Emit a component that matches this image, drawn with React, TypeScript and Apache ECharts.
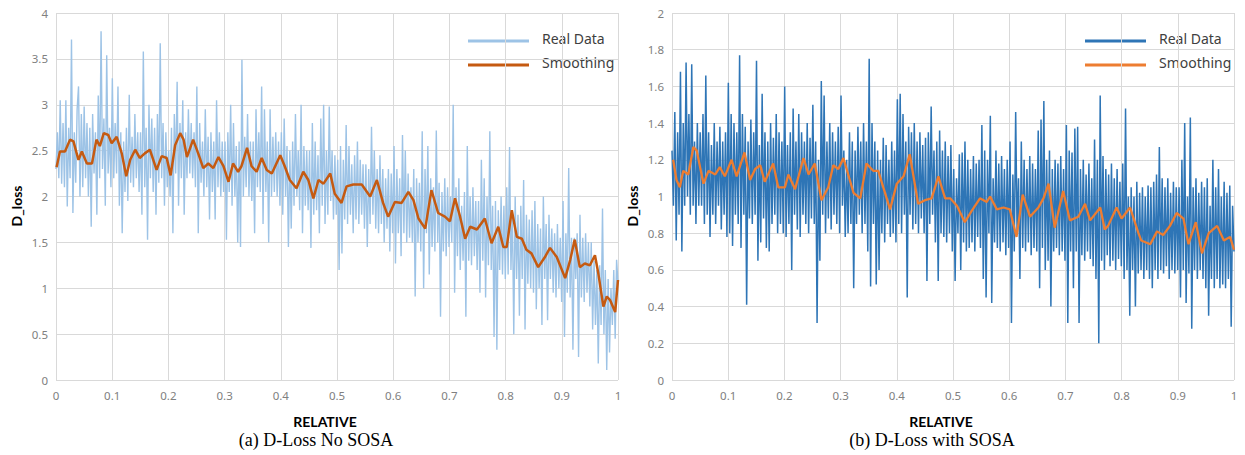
import React, { useEffect, useRef } from "react";
import * as echarts from "echarts";

// ---------- data ----------
const realLeft = [
  2.3, 2.7, 2.2, 3.05, 2.14, 2.8, 2.1, 3.05, 1.89, 2.75, 2.2, 3.71, 1.82, 2.7, 2.15, 2.95, 3.2, 2.0, 2.9, 2.1,
  2.98, 2.2, 2.8, 2.0, 2.75, 1.67, 2.9, 2.25, 2.7, 1.8, 3.1, 2.2, 3.8, 2.3, 2.85, 1.9, 3.54, 2.25, 2.75, 2.1,
  3.29, 2.2, 2.8, 2.25, 3.2, 1.9, 2.7, 1.6, 2.6, 2.05, 2.75, 1.95, 3.11, 2.15, 2.65, 2.1, 2.9, 2.2, 2.7, 2.05,
  2.7, 1.8, 3.58, 2.1, 2.75, 1.53, 3.0, 2.2, 2.85, 2.05, 2.75, 1.8, 2.9, 2.15, 3.67, 2.2, 2.8, 1.9, 2.7, 2.1,
  2.5, 2.0, 2.75, 1.6, 2.9, 2.25, 3.25, 1.9, 2.8, 2.2, 3.05, 1.8, 2.7, 2.2, 2.95, 2.25, 2.8, 2.2, 2.7, 2.1,
  3.2, 1.6, 2.8, 2.15, 2.6, 2.0, 2.95, 2.1, 2.65, 1.75, 2.7, 2.05, 2.6, 1.75, 3.05, 2.1, 2.7, 2.0, 2.6, 2.05,
  2.6, 1.53, 2.7, 2.05, 3.0, 1.9, 2.8, 2.0, 2.55, 1.5, 2.6, 1.45, 3.49, 2.0, 2.65, 2.1, 2.9, 2.0, 2.6, 1.95,
  2.6, 1.6, 2.95, 2.1, 2.7, 2.05, 3.2, 1.7, 2.95, 2.05, 2.6, 1.5, 2.95, 2.0, 2.65, 2.05, 2.7, 2.0, 2.6, 1.9,
  2.7, 1.8, 2.85, 2.0, 2.55, 1.45, 2.5, 1.65, 2.6, 1.9, 2.9, 2.0, 2.5, 1.85, 3.0, 1.6, 2.55, 1.9, 2.5, 1.85,
  2.5, 1.44, 2.8, 1.8, 2.6, 1.85, 2.45, 1.6, 2.85, 1.9, 3.0, 1.7, 2.5, 1.8, 2.98, 1.95, 2.5, 1.75, 2.45, 1.8,
  2.4, 1.2, 2.55, 1.38, 2.4, 1.75, 2.78, 1.7, 2.55, 1.8, 2.35, 1.6, 2.45, 1.75, 2.6, 1.7, 2.4, 1.8, 2.35, 1.65,
  2.35, 1.45, 2.3, 1.7, 2.76, 1.8, 2.5, 1.65, 2.3, 1.6, 2.45, 1.7, 2.3, 1.5, 2.2, 1.65, 2.3, 1.4, 2.25, 1.6,
  2.55, 1.27, 2.3, 1.6, 2.2, 1.35, 2.67, 1.6, 2.5, 1.5, 2.25, 1.55, 2.1, 1.5, 2.3, 0.91, 2.2, 1.5, 2.15, 1.4,
  2.71, 1.0, 2.3, 1.6, 2.55, 1.15, 2.2, 1.45, 2.1, 1.4, 2.72, 1.5, 2.15, 0.69, 2.05, 1.4, 2.2, 1.35, 2.1, 1.45,
  2.0, 1.5, 3.0, 0.95, 2.1, 1.35, 2.2, 1.2, 1.9, 1.3, 2.05, 0.69, 2.55, 1.3, 2.0, 1.25, 2.1, 1.35, 1.95, 1.2,
  1.95, 0.95, 2.4, 1.3, 2.2, 0.9, 2.0, 1.25, 2.71, 1.2, 1.9, 0.47, 1.95, 0.33, 1.85, 1.2, 2.0, 1.15, 1.9, 1.1,
  2.1, 1.15, 2.54, 1.2, 1.85, 0.5, 2.0, 1.1, 1.8, 0.7, 1.9, 1.1, 2.18, 0.55, 1.8, 1.05, 1.75, 1.0, 1.85, 0.95,
  1.95, 0.77, 1.7, 1.0, 1.65, 0.6, 2.0, 1.1, 1.7, 0.65, 1.8, 1.1, 1.65, 0.95, 1.6, 0.9, 1.7, 1.0, 1.55, 0.85,
  1.95, 0.47, 1.6, 0.95, 2.31, 0.9, 1.55, 0.33, 1.55, 1.1, 1.6, 0.25, 1.8, 0.9, 1.55, 0.85, 1.6, 0.95, 1.5, 0.8,
  1.5, 0.55, 1.3, 0.6, 1.2, 0.18, 1.25, 0.6, 1.87, 0.5, 1.2, 0.11, 1.1, 0.3, 1.0, 0.6, 1.2, 0.45, 1.31, 1.05,
];

const smoothLeftX = [
  0.001, 0.007, 0.016, 0.025, 0.031, 0.04, 0.046, 0.055, 0.064, 0.072,
  0.078, 0.085, 0.093, 0.099, 0.108, 0.117, 0.125, 0.132, 0.141, 0.149,
  0.158, 0.167, 0.179, 0.188, 0.197, 0.204, 0.212, 0.221, 0.227, 0.233,
  0.244, 0.253, 0.262, 0.271, 0.28, 0.289, 0.298, 0.307, 0.315, 0.324,
  0.33, 0.34, 0.348, 0.357, 0.366, 0.375, 0.384, 0.399, 0.407, 0.416,
  0.428, 0.44, 0.449, 0.458, 0.467, 0.476, 0.488, 0.496, 0.508, 0.517,
  0.529, 0.544, 0.559, 0.571, 0.582, 0.591, 0.603, 0.615, 0.627, 0.636,
  0.645, 0.657, 0.668, 0.68, 0.692, 0.701, 0.71, 0.719, 0.728, 0.737,
  0.749, 0.763, 0.775, 0.787, 0.796, 0.802, 0.811, 0.82, 0.829, 0.837,
  0.846, 0.858, 0.87, 0.879, 0.891, 0.906, 0.915, 0.923, 0.932, 0.941,
  0.95, 0.959, 0.965, 0.974, 0.98, 0.986, 0.995, 1.0,
];
const smoothLeftY = [
  2.32, 2.49, 2.49, 2.62, 2.6, 2.4, 2.49, 2.36, 2.36, 2.62,
  2.55, 2.69, 2.67, 2.58, 2.65, 2.47, 2.22, 2.4, 2.51, 2.42,
  2.47, 2.51, 2.29, 2.44, 2.42, 2.23, 2.56, 2.69, 2.62, 2.43,
  2.62, 2.47, 2.31, 2.36, 2.31, 2.43, 2.33, 2.16, 2.36, 2.27,
  2.33, 2.53, 2.33, 2.27, 2.42, 2.29, 2.25, 2.45, 2.33, 2.18,
  2.09, 2.27, 2.18, 1.98, 2.18, 2.14, 2.25, 2.03, 1.93, 2.11,
  2.13, 2.13, 2.0, 2.18, 1.93, 1.78, 1.94, 1.93, 2.05, 1.96,
  1.76, 1.65, 2.07, 1.82, 1.78, 1.73, 1.98, 1.78, 1.54, 1.67,
  1.64, 1.76, 1.49, 1.67, 1.45, 1.45, 1.85, 1.56, 1.54, 1.42,
  1.38, 1.23, 1.34, 1.44, 1.34, 1.11, 1.31, 1.53, 1.23, 1.27,
  1.25, 1.36, 1.16, 0.8, 0.91, 0.87, 0.74, 1.09,
];

const realRight = [
  1.25, 0.95, 1.46, 0.76, 1.35, 0.9, 1.68, 0.7, 1.4, 0.95, 1.73, 1.0, 1.45, 0.9, 1.72, 0.95, 1.3, 0.85, 1.4, 0.95,
  1.35, 0.95, 1.45, 0.85, 1.66, 0.9, 1.35, 0.78, 1.28, 0.9, 1.4, 0.85, 1.3, 0.95, 1.38, 0.82, 1.3, 0.9, 1.35, 0.78,
  1.62, 0.8, 1.45, 0.73, 1.4, 0.9, 1.35, 0.85, 1.77, 0.72, 1.45, 0.9, 1.38, 0.41, 1.3, 0.88, 1.42, 0.85, 1.35, 0.9,
  1.74, 0.65, 1.28, 0.75, 1.56, 0.88, 1.35, 0.72, 1.3, 0.7, 1.4, 0.85, 1.32, 0.9, 1.45, 0.8, 1.35, 0.85, 1.3, 0.8,
  1.6, 0.78, 1.28, 0.85, 1.35, 0.6, 1.48, 0.9, 1.3, 0.82, 1.45, 0.78, 1.35, 0.9, 1.3, 0.85, 1.4, 0.8, 1.32, 0.88,
  1.5, 0.85, 1.3, 0.31, 1.2, 0.65, 1.63, 0.9, 1.55, 0.8, 1.3, 0.88, 1.4, 0.82, 1.35, 0.9, 1.3, 0.85, 1.38, 0.8,
  1.55, 0.95, 1.25, 0.78, 1.2, 0.8, 1.35, 0.85, 1.3, 0.5, 1.25, 0.85, 1.38, 0.9, 1.3, 0.8, 1.4, 0.85, 1.3, 0.7,
  1.75, 0.51, 1.4, 0.85, 1.3, 0.52, 1.25, 0.6, 1.2, 0.8, 1.32, 0.75, 1.28, 0.85, 1.2, 0.78, 1.3, 0.8, 1.25, 0.75,
  1.53, 0.85, 1.56, 0.8, 1.45, 0.9, 1.3, 0.45, 1.38, 0.9, 1.35, 0.82, 1.4, 0.85, 1.3, 0.8, 1.35, 0.88, 1.28, 0.8,
  1.32, 0.54, 1.35, 0.85, 1.49, 0.9, 1.25, 0.75, 1.3, 0.54, 1.36, 0.8, 1.25, 0.78, 1.3, 0.75, 1.22, 0.8, 1.28, 0.7,
  1.15, 0.54, 1.1, 0.8, 1.23, 0.6, 1.24, 0.75, 1.3, 0.7, 1.2, 0.72, 1.15, 0.75, 1.22, 0.7, 1.18, 0.78, 1.2, 0.72,
  1.39, 0.55, 1.25, 0.45, 1.2, 0.8, 1.44, 0.42, 1.1, 0.75, 1.25, 0.72, 1.18, 0.7, 1.22, 0.75, 1.15, 0.68, 1.2, 0.72,
  1.3, 0.31, 1.12, 0.7, 1.46, 0.8, 1.1, 0.55, 1.3, 0.72, 1.2, 0.7, 1.15, 0.75, 1.22, 0.68, 1.18, 0.72, 1.15, 0.7,
  1.36, 0.5, 1.42, 0.72, 1.52, 0.6, 1.2, 0.65, 1.25, 0.4, 1.15, 0.7, 1.2, 0.72, 1.18, 0.68, 1.22, 0.7, 1.15, 0.65,
  1.39, 0.31, 1.25, 0.7, 1.24, 0.5, 1.37, 0.7, 1.38, 0.31, 1.15, 0.68, 1.2, 0.65, 1.12, 0.7, 1.18, 0.66, 1.1, 0.62,
  1.31, 0.55, 1.2, 0.2, 1.55, 0.65, 1.22, 0.6, 1.15, 0.68, 1.12, 0.62, 1.18, 0.65, 1.1, 0.6, 1.15, 0.66, 1.08, 0.62,
  1.18, 0.55, 1.48, 0.6, 1.0, 0.35, 1.05, 0.6, 1.0, 0.4, 1.08, 0.58, 1.02, 0.6, 1.05, 0.55, 1.0, 0.6, 1.06, 0.55,
  1.05, 0.5, 1.08, 0.6, 1.12, 0.55, 1.27, 0.6, 1.1, 0.58, 1.05, 0.62, 1.1, 0.55, 1.02, 0.6, 1.08, 0.58, 1.05, 0.6,
  1.05, 0.45, 1.2, 0.6, 1.4, 0.42, 1.0, 0.58, 1.43, 0.28, 1.05, 0.6, 1.1, 0.55, 1.02, 0.6, 1.08, 0.55, 1.05, 0.5,
  1.1, 0.35, 0.95, 0.55, 1.2, 0.5, 1.05, 0.55, 1.15, 0.5, 1.0, 0.52, 1.08, 0.5, 1.02, 0.55, 1.06, 0.29, 0.95, 0.7,
];

const smoothRightX = [
  0.002, 0.008, 0.014, 0.02, 0.029, 0.038, 0.044, 0.056, 0.065, 0.077,
  0.085, 0.094, 0.106, 0.115, 0.129, 0.139, 0.148, 0.157, 0.165, 0.18,
  0.189, 0.201, 0.207, 0.219, 0.234, 0.243, 0.254, 0.266, 0.278, 0.287,
  0.296, 0.305, 0.323, 0.335, 0.346, 0.358, 0.367, 0.379, 0.388, 0.4,
  0.412, 0.423, 0.438, 0.45, 0.462, 0.474, 0.486, 0.495, 0.507, 0.521,
  0.533, 0.548, 0.56, 0.566, 0.578, 0.59, 0.601, 0.613, 0.624, 0.637,
  0.652, 0.661, 0.67, 0.681, 0.696, 0.708, 0.723, 0.735, 0.744, 0.762,
  0.77, 0.776, 0.791, 0.8, 0.815, 0.83, 0.835, 0.851, 0.863, 0.874,
  0.886, 0.898, 0.91, 0.919, 0.932, 0.943, 0.955, 0.97, 0.982, 0.993,
  1.0,
];
const smoothRightY = [
  1.2, 1.09, 1.05, 1.14, 1.12, 1.27, 1.25, 1.07, 1.14, 1.12,
  1.16, 1.11, 1.2, 1.11, 1.24, 1.09, 1.15, 1.17, 1.08, 1.18,
  1.05, 1.05, 1.12, 1.04, 1.21, 1.12, 1.18, 0.98, 1.05, 1.17,
  1.15, 1.21, 1.02, 0.99, 1.18, 1.14, 1.14, 1.02, 0.93, 1.07,
  1.11, 1.23, 0.96, 0.98, 0.99, 1.11, 0.99, 0.99, 0.95, 0.86,
  0.92, 0.99, 0.97, 1.0, 0.93, 0.94, 0.93, 0.78, 1.01, 0.89,
  0.94, 0.99, 1.07, 0.83, 1.03, 0.87, 0.89, 0.96, 0.87, 0.94,
  0.82, 0.84, 0.94, 0.88, 0.94, 0.8, 0.76, 0.74, 0.81, 0.79,
  0.84, 0.91, 0.88, 0.74, 0.86, 0.69, 0.8, 0.84, 0.76, 0.78,
  0.71,
];

const legendNames = ["Real Data", "Smoothing"];
const yAxisName = "D_loss";
const xAxisName = "RELATIVE";
const captions = ["(a) D-Loss No SOSA", "(b) D-Loss with SOSA"];

// ---------- helpers ----------
const toPairs = (ys: number[]) => ys.map((y, i) => [i / (ys.length - 1), y]);
const zip = (xs: number[], ys: number[]) => xs.map((x, i) => [x, ys[i]]);

const COLORS = {
  leftReal: "#9DC3E6",
  leftSmooth: "#C55A11",
  rightReal: "#2E75B6",
  rightSmooth: "#ED7D31",
  grid: "#D9D9D9",
  label: "#808080",
};

const axisLabel = {
  color: COLORS.label,
  fontSize: 11.5,
  fontFamily: "Noto Sans",
};

function makeX(gridIndex: number) {
  return {
    type: "value",
    gridIndex,
    min: 0,
    max: 1,
    interval: 0.1,
    axisLine: { show: false },
    axisTick: { show: false },
    splitLine: { show: true, lineStyle: { color: COLORS.grid, width: 1 } },
    axisLabel: { ...axisLabel, margin: 9 },
  };
}
function makeY(gridIndex: number, max: number, interval: number) {
  return {
    type: "value",
    gridIndex,
    min: 0,
    max,
    interval,
    axisLine: { show: false },
    axisTick: { show: false },
    splitLine: { show: true, lineStyle: { color: COLORS.grid, width: 1 } },
    axisLabel: { ...axisLabel, margin: 8 },
  };
}

function legendGroup(x: number, realColor: string, smoothColor: string) {
  const label = (t: string, y: number) => ({
    type: "text",
    left: x + 74,
    top: y - 10,
    style: { text: t, fill: "#404040", font: '14px "Noto Sans"' },
  });
  return [
    {
      type: "line",
      shape: { x1: x, y1: 41, x2: x + 61, y2: 41 },
      style: { stroke: realColor, lineWidth: 3 },
    },
    {
      type: "line",
      shape: { x1: x, y1: 65, x2: x + 61, y2: 65 },
      style: { stroke: smoothColor, lineWidth: 3 },
    },
    label(legendNames[0], 41),
    label(legendNames[1], 65),
  ];
}

function centeredText(text: string, cx: number, cy: number, font: string, rotation = 0) {
  return {
    type: "text",
    x: cx,
    y: cy,
    rotation,
    style: { text, fill: "#000", font, align: "center", verticalAlign: "middle" },
  };
}

export default function App() {
  const ref = useRef<HTMLDivElement>(null);

  useEffect(() => {
    if (!ref.current) return;
    const chart = echarts.init(ref.current, null, { renderer: "svg" });
    chart.setOption({
      animation: false,
      backgroundColor: "#ffffff",
      grid: [
        { left: 56, right: 627, top: 13, bottom: 75 },
        { left: 672, right: 11, top: 13, bottom: 75 },
      ],
      xAxis: [makeX(0), makeX(1)],
      yAxis: [makeY(0, 4, 0.5), makeY(1, 2, 0.2)],
      series: [
        {
          name: legendNames[0],
          type: "line",
          xAxisIndex: 0,
          yAxisIndex: 0,
          data: toPairs(realLeft),
          showSymbol: false,
          lineStyle: { color: COLORS.leftReal, width: 1.4 },
          z: 2,
        },
        {
          name: legendNames[1],
          type: "line",
          xAxisIndex: 0,
          yAxisIndex: 0,
          data: zip(smoothLeftX, smoothLeftY),
          showSymbol: false,
          lineStyle: { color: COLORS.leftSmooth, width: 2.5 },
          z: 3,
        },
        {
          name: legendNames[0],
          type: "line",
          xAxisIndex: 1,
          yAxisIndex: 1,
          data: toPairs(realRight),
          showSymbol: false,
          lineStyle: { color: COLORS.rightReal, width: 1.5 },
          z: 2,
        },
        {
          name: legendNames[1],
          type: "line",
          xAxisIndex: 1,
          yAxisIndex: 1,
          data: zip(smoothRightX, smoothRightY),
          showSymbol: false,
          lineStyle: { color: COLORS.rightSmooth, width: 2.3 },
          z: 3,
        },
      ],
      graphic: [
        ...legendGroup(468, COLORS.leftReal, COLORS.leftSmooth),
        ...legendGroup(1085, COLORS.rightReal, COLORS.rightSmooth),
        centeredText(yAxisName, 16, 206, 'bold 14px "Lato"', Math.PI / 2),
        centeredText(yAxisName, 632, 206, 'bold 14px "Lato"', Math.PI / 2),
        centeredText(xAxisName, 325, 421, 'bold 14px "Lato"'),
        centeredText(xAxisName, 941, 421, 'bold 14px "Lato"'),
        centeredText(captions[0], 316, 440, '18px "Liberation Serif"'),
        centeredText(captions[1], 932, 440, '18px "Liberation Serif"'),
      ],
    });
    return () => chart.dispose();
  }, []);

  return (
    <div
      ref={ref}
      style={{ position: "absolute", left: 0, top: 0, width: 1245, height: 455 }}
    />
  );
}
